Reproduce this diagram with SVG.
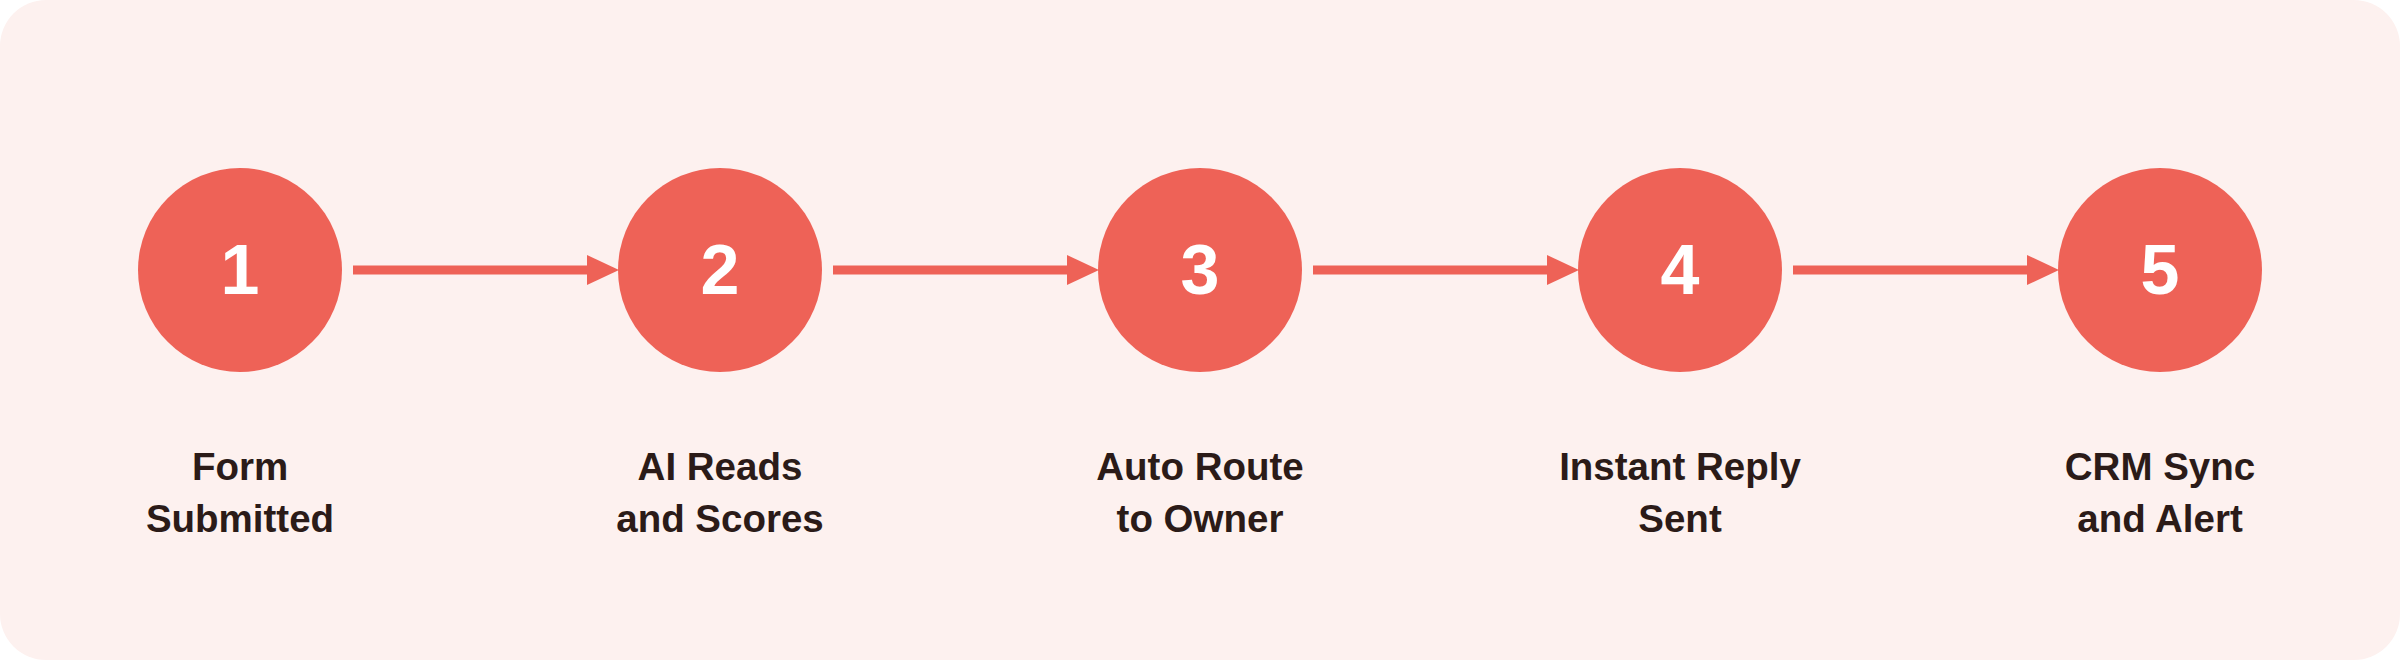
<svg xmlns="http://www.w3.org/2000/svg" width="2400" height="660" viewBox="0 0 2400 660">
<style>
.step{fill:#ee6257}
.num{font-family:"Liberation Sans",Arial,sans-serif;font-weight:bold;font-size:70px;fill:#ffffff;text-anchor:middle}
.lbl{font-family:"Liberation Sans",Arial,sans-serif;font-weight:bold;font-size:38.5px;fill:#2b1b18;text-anchor:middle}
.conn{stroke:#ee6257;stroke-width:9;fill:none}
</style>
<defs>
<marker id="ah" markerUnits="userSpaceOnUse" markerWidth="32" markerHeight="30" refX="0" refY="15" orient="auto" overflow="visible">
<path d="M0,0 L32,15 L0,30 Z" fill="#ee6257"/>
</marker>
</defs>
<rect x="0" y="0" width="2400" height="660" fill="#ffffff"/>
<rect x="0" y="0" width="2400" height="660" rx="46" ry="46" fill="#fdf1ef"/>
<g id="connectors">
<line class="conn" x1="353" y1="270" x2="587" y2="270" marker-end="url(#ah)"/>
<line class="conn" x1="833" y1="270" x2="1067" y2="270" marker-end="url(#ah)"/>
<line class="conn" x1="1313" y1="270" x2="1547" y2="270" marker-end="url(#ah)"/>
<line class="conn" x1="1793" y1="270" x2="2027" y2="270" marker-end="url(#ah)"/>
</g>
<g id="step1"><circle class="step" cx="240" cy="270" r="102"/><text class="num" x="240" y="294">1</text><text class="lbl" x="240" y="480">Form</text><text class="lbl" x="240" y="532">Submitted</text></g>
<g id="step2"><circle class="step" cx="720" cy="270" r="102"/><text class="num" x="720" y="294">2</text><text class="lbl" x="720" y="480">AI Reads</text><text class="lbl" x="720" y="532">and Scores</text></g>
<g id="step3"><circle class="step" cx="1200" cy="270" r="102"/><text class="num" x="1200" y="294">3</text><text class="lbl" x="1200" y="480">Auto Route</text><text class="lbl" x="1200" y="532">to Owner</text></g>
<g id="step4"><circle class="step" cx="1680" cy="270" r="102"/><text class="num" x="1680" y="294">4</text><text class="lbl" x="1680" y="480">Instant Reply</text><text class="lbl" x="1680" y="532">Sent</text></g>
<g id="step5"><circle class="step" cx="2160" cy="270" r="102"/><text class="num" x="2160" y="294">5</text><text class="lbl" x="2160" y="480">CRM Sync</text><text class="lbl" x="2160" y="532">and Alert</text></g>
</svg>
